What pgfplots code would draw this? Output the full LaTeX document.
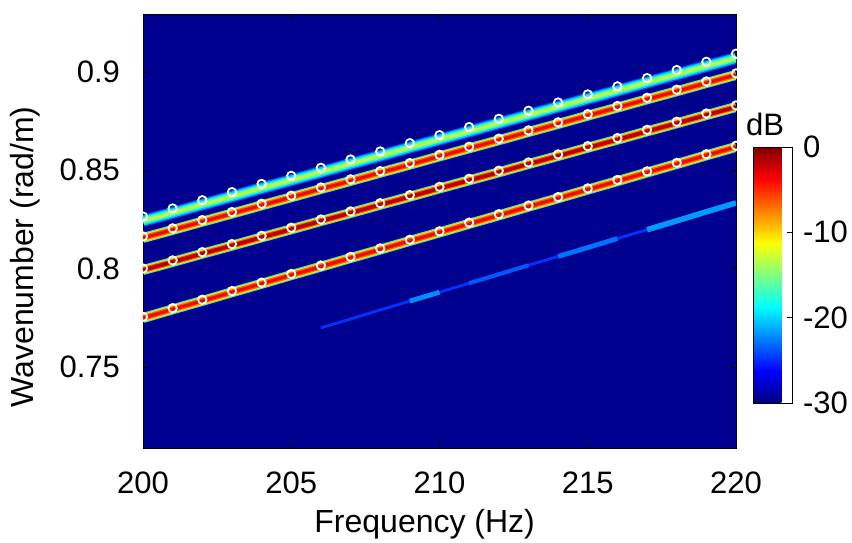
\documentclass[border=0pt]{standalone}
\usepackage{fontspec}
\setmainfont{Liberation Sans}
\usepackage{pgfplots}
\usepackage{pgfplotstable}
\pgfplotsset{compat=1.18}

\definecolor{bgblue}{rgb}{0,0,0.56}
% jet-like shades for the ridges
\definecolor{topout}{rgb}{0,0.3,0.95}
\definecolor{topmid}{rgb}{0,0.8,1}
\definecolor{topin}{rgb}{0.3,1,0.7}
\definecolor{topcore}{rgb}{0.7,1,0.3}
\definecolor{ridgeout}{rgb}{0.2,0.9,0.8}
\definecolor{ridgeyel}{rgb}{1,0.9,0}
\definecolor{ridgeora}{rgb}{1,0.4,0}
\definecolor{ridgered}{rgb}{0.92,0.05,0}
\definecolor{ridgedark}{rgb}{0.72,0,0}

% mode 1 (top): y = ridge, m = predicted marker
\pgfplotstableread{
x y m
200 0.8243 0.8265
201 0.8284 0.8306
202 0.8326 0.8348
203 0.8367 0.8389
204 0.8409 0.8431
205 0.8450 0.8472
206 0.8491 0.8513
207 0.8533 0.8555
208 0.8574 0.8596
209 0.8616 0.8638
210 0.8657 0.8679
211 0.8698 0.8720
212 0.8740 0.8762
213 0.8781 0.8803
214 0.8823 0.8845
215 0.8864 0.8886
216 0.8905 0.8927
217 0.8947 0.8969
218 0.8988 0.9010
219 0.9030 0.9052
220 0.9071 0.9093
}\modeA

\pgfplotstableread{
x y m
200 0.8156 0.8164
201 0.8197 0.8205
202 0.8239 0.8247
203 0.8280 0.8288
204 0.8322 0.8330
205 0.8363 0.8371
206 0.8405 0.8413
207 0.8446 0.8454
208 0.8488 0.8496
209 0.8529 0.8537
210 0.8571 0.8579
211 0.8612 0.8620
212 0.8653 0.8661
213 0.8695 0.8703
214 0.8736 0.8744
215 0.8778 0.8786
216 0.8819 0.8827
217 0.8861 0.8869
218 0.8902 0.8910
219 0.8944 0.8952
220 0.8985 0.8993
}\modeB

\pgfplotstableread{
x y m
200 0.7993 0.8001
201 0.8034 0.8042
202 0.8076 0.8084
203 0.8117 0.8125
204 0.8159 0.8167
205 0.8200 0.8208
206 0.8242 0.8250
207 0.8283 0.8291
208 0.8325 0.8333
209 0.8366 0.8374
210 0.8408 0.8416
211 0.8449 0.8457
212 0.8490 0.8498
213 0.8532 0.8540
214 0.8573 0.8581
215 0.8615 0.8623
216 0.8656 0.8664
217 0.8698 0.8706
218 0.8739 0.8747
219 0.8781 0.8789
220 0.8822 0.8830
}\modeC

\pgfplotstableread{
x y m
200 0.7749 0.7755
201 0.7793 0.7799
202 0.7836 0.7842
203 0.7880 0.7886
204 0.7923 0.7929
205 0.7967 0.7973
206 0.8010 0.8016
207 0.8054 0.8060
208 0.8097 0.8103
209 0.8141 0.8147
210 0.8184 0.8190
211 0.8228 0.8234
212 0.8271 0.8277
213 0.8315 0.8321
214 0.8358 0.8364
215 0.8402 0.8408
216 0.8445 0.8451
217 0.8489 0.8495
218 0.8532 0.8538
219 0.8576 0.8582
220 0.8619 0.8625
}\modeD

% weak branch
\pgfplotstableread{
x y
206 0.7699
207 0.7744
208 0.7790
209 0.7835
210 0.7880
211 0.7926
212 0.7971
213 0.8017
214 0.8062
215 0.8107
216 0.8153
217 0.8198
218 0.8243
219 0.8289
220 0.8334
}\weak

\begin{document}
\begin{tikzpicture}
\begin{axis}[
    name=ax,
    scale only axis,
    width=296.5pt, height=217pt,
    xmin=200, xmax=220, ymin=0.7088, ymax=0.9295,
    xtick={200,205,210,215,220},
    ytick={0.75,0.8,0.85,0.9},
    /pgf/number format/assume math mode=true,
    tick label style={font=\fontsize{15.5}{18}\selectfont},
    label style={font=\fontsize{16}{19}\selectfont},
    xticklabel style={yshift=-8.5pt},
    yticklabel style={xshift=-8pt},
    tick align=inside,
    major tick length=3pt,
    tick style={black, thin},
    axis line style={black},
    axis background/.style={fill=bgblue},
    xlabel={Frequency (Hz)},
    ylabel={Wavenumber (rad/m)},
    xlabel style={at={(axis description cs:0.475,-0.175)}, anchor=center},
    ylabel style={at={(axis description cs:-0.199,0.44)}, anchor=center},
    point meta min=-30, point meta max=0,
    colormap/jet,
    colorbar,
    colorbar style={
        scale only axis,
        at={(1.0287,0.1037)}, anchor=south west,
        width=19.5pt, height=128pt,
        ytick={-30,-20,-10,0},
        yticklabels={-30,-20,-10,0},
        yticklabel pos=right,
        ytick pos=right,
        tick align=inside,
        major tick length=2.5pt,
        yticklabel style={font=\fontsize{15.5}{18}\selectfont, xshift=2pt},
        title={dB},
        title style={font=\fontsize{15.5}{18}\selectfont, at={(0.31,1)}, anchor=center, yshift=5.5pt},
    },
]

% weak branch
\addplot[no marks, line width=1.4pt, color={rgb,1:red,0;green,0.2;blue,1}] table {\weak};
\addplot[no marks, line width=2.4pt, color={rgb,1:red,0;green,0.55;blue,1}, restrict x to domain=209:210] table {\weak};
\addplot[no marks, line width=2pt, color={rgb,1:red,0;green,0.35;blue,1}, restrict x to domain=211:213] table {\weak};
\addplot[no marks, line width=2.4pt, color={rgb,1:red,0;green,0.45;blue,1}, restrict x to domain=214:216] table {\weak};
\addplot[no marks, line width=2.8pt, color={rgb,1:red,0;green,0.6;blue,1}, restrict x to domain=217:220] table {\weak};

% mode 1 ridge
\addplot[no marks, line width=6pt, topout] table {\modeA};
\addplot[no marks, line width=4.8pt, topmid] table {\modeA};
\addplot[no marks, line width=3.2pt, topin] table {\modeA};
\addplot[no marks, line width=1.6pt, topcore] table {\modeA};

% modes 2-4 ridges
\addplot[no marks, line width=5pt, ridgeout] table {\modeB};
\addplot[no marks, line width=4pt, ridgeyel] table {\modeB};
\addplot[no marks, line width=2.9pt, ridgeora] table {\modeB};
\addplot[no marks, line width=1.6pt, ridgered] table {\modeB};

\addplot[no marks, line width=5pt, ridgeout] table {\modeC};
\addplot[no marks, line width=4pt, ridgeyel] table {\modeC};
\addplot[no marks, line width=3pt, ridgeora] table {\modeC};
\addplot[no marks, line width=1.9pt, ridgedark] table {\modeC};

\addplot[no marks, line width=5pt, ridgeout] table {\modeD};
\addplot[no marks, line width=4pt, ridgeyel] table {\modeD};
\addplot[no marks, line width=2.9pt, ridgeora] table {\modeD};
\addplot[no marks, line width=1.6pt, ridgered] table {\modeD};

% predicted wavenumbers
\addplot[only marks, mark=o, mark size=2.1pt, mark options={white, line width=0.9pt}] table[y=m] {\modeA};
\addplot[only marks, mark=o, mark size=2.1pt, mark options={white, line width=0.9pt}] table[y=m] {\modeB};
\addplot[only marks, mark=o, mark size=2.1pt, mark options={white, line width=0.9pt}] table[y=m] {\modeC};
\addplot[only marks, mark=o, mark size=2.1pt, mark options={white, line width=0.9pt}] table[y=m] {\modeD};

\end{axis}
\pgfresetboundingbox
\path[use as bounding box] ([xshift=-71.5pt,yshift=-47.5pt]ax.south west) rectangle ([xshift=58pt,yshift=7pt]ax.north east);
\end{tikzpicture}
\end{document}
